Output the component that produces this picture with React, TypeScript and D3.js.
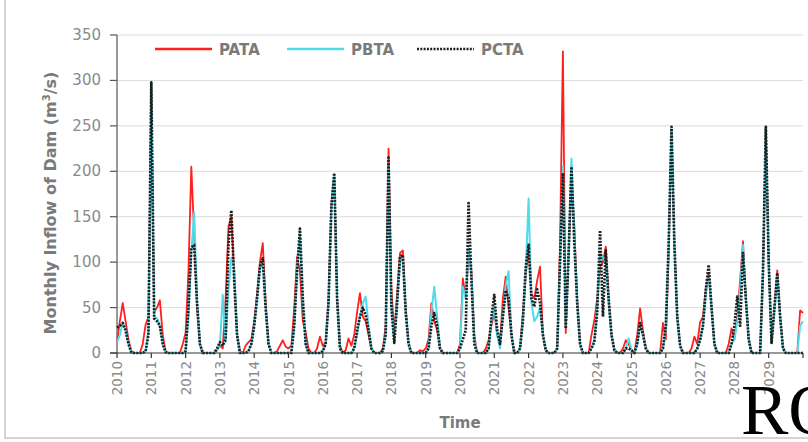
import * as d3 from "d3";

// monthly inflow, Jan 2010 .. Jan 2030 (one row per year)
const PATA = [
  12, 35, 55, 35, 15, 2, 0, 0, 0, 10, 31, 40,
  285, 45, 50, 58, 20, 2, 0, 0, 0, 0, 0, 10,
  22, 90, 205, 130, 50, 10, 0, 0, 0, 0, 0, 3,
  8, 5, 60, 139, 150, 85, 20, 2, 0, 8, 12, 15,
  35, 65, 100, 121, 55, 10, 0, 0, 2, 8, 14, 7,
  5, 8, 50, 106, 90, 35, 23, 5, 0, 0, 5, 18,
  8, 12, 60, 165, 195, 60, 8, 0, 3, 16, 8, 20,
  45, 66, 40, 35, 20, 5, 0, 0, 0, 5, 30, 225,
  70, 22, 65, 110, 113, 50, 10, 0, 0, 0, 3, 2,
  5, 15, 55, 35, 25, 5, 0, 0, 0, 0, 0, 0,
  10, 82, 60, 113, 90, 20, 0, 0, 0, 5, 14, 30,
  45, 20, 12, 60, 84, 50, 20, 0, 0, 5, 45, 85,
  115, 65, 60, 80, 95, 20, 3, 0, 0, 0, 5, 120,
  332, 22, 110, 190, 140, 60, 10, 0, 0, 0, 20, 36,
  60, 95, 100, 117, 60, 20, 3, 0, 0, 5, 14, 10,
  3, 0, 20, 49, 25, 5, 0, 0, 0, 0, 0, 33,
  15, 110, 245, 120, 40, 8, 0, 0, 0, 5, 18, 10,
  34, 40, 70, 88, 50, 10, 0, 0, 0, 0, 10, 27,
  15, 40, 80, 123, 60, 15, 0, 0, 0, 0, 90, 245,
  100, 11, 50, 91, 40, 5, 0, 0, 0, 0, 0, 47,
  44,
];

const PBTA = [
  12, 20, 33, 25, 10, 1, 0, 0, 0, 0, 2, 25,
  292, 40, 38, 30, 10, 1, 0, 0, 0, 0, 0, 0,
  2, 40, 110, 155, 60, 10, 0, 0, 0, 0, 0, 3,
  8, 64, 12, 70, 105, 95, 20, 0, 0, 0, 2, 10,
  30, 60, 92, 100, 50, 10, 0, 0, 0, 0, 0, 0,
  0, 2, 30, 95, 130, 55, 10, 0, 0, 0, 0, 0,
  2, 10, 55, 160, 197, 60, 5, 0, 0, 0, 0, 5,
  20, 40, 55, 62, 30, 5, 0, 0, 0, 2, 20, 205,
  50, 12, 55, 100, 105, 45, 10, 0, 0, 0, 0, 0,
  0, 5, 45, 73, 40, 5, 0, 0, 0, 0, 0, 0,
  5, 73, 60, 115, 85, 15, 0, 0, 0, 0, 5, 35,
  50, 20, 5, 40, 75, 90, 20, 0, 0, 5, 35, 90,
  170, 55, 35, 40, 50, 20, 3, 0, 0, 0, 5, 100,
  205, 30, 110, 214, 130, 55, 10, 0, 0, 0, 5, 15,
  50, 110, 105, 100, 55, 20, 3, 0, 0, 0, 5, 16,
  3, 0, 10, 31, 20, 5, 0, 0, 0, 0, 0, 5,
  25, 120, 247, 120, 40, 8, 0, 0, 0, 0, 0, 5,
  15, 30, 65, 85, 50, 10, 0, 0, 0, 0, 0, 10,
  15, 35, 70, 119, 60, 15, 0, 0, 0, 0, 90, 247,
  100, 11, 45, 85, 40, 5, 0, 0, 0, 0, 0, 30,
  35,
];

const PCTA = [
  28, 30, 33, 25, 10, 1, 0, 0, 0, 0, 2, 20,
  298, 38, 35, 30, 10, 1, 0, 0, 0, 0, 0, 0,
  2, 50, 116, 119, 55, 10, 0, 0, 0, 0, 0, 5,
  12, 8, 15, 120, 157, 80, 20, 0, 0, 0, 2, 10,
  30, 60, 95, 104, 50, 10, 0, 0, 0, 0, 0, 0,
  0, 0, 30, 90, 137, 60, 10, 0, 0, 0, 0, 0,
  2, 10, 55, 160, 198, 60, 5, 0, 0, 0, 0, 5,
  25, 40, 50, 42, 25, 5, 0, 0, 0, 2, 20, 215,
  50, 11, 55, 106, 108, 45, 10, 0, 0, 0, 0, 0,
  0, 5, 30, 44, 30, 5, 0, 0, 0, 0, 0, 0,
  5, 15, 25, 165, 80, 10, 0, 0, 0, 0, 5, 40,
  64, 25, 10, 40, 69, 60, 20, 0, 0, 5, 35, 95,
  119, 60, 51, 70, 55, 20, 3, 0, 0, 0, 5, 100,
  198, 27, 110, 205, 120, 55, 10, 0, 0, 0, 5, 12,
  45, 135, 40, 113, 60, 20, 3, 0, 0, 0, 5, 5,
  3, 0, 10, 33, 20, 5, 0, 0, 0, 0, 0, 5,
  30, 120, 249, 120, 40, 8, 0, 0, 0, 0, 0, 5,
  14, 30, 70, 97, 50, 10, 0, 0, 0, 0, 0, 10,
  30, 62, 30, 110, 60, 15, 0, 0, 0, 0, 90, 249,
  100, 11, 50, 88, 40, 5, 0, 0, 0, 0, 0, 0,
  0,
];

const years = d3.range(2010, 2030);
const yTicks = [0, 50, 100, 150, 200, 250, 300, 350];

const W = 808;
const H = 442;
const font = "DejaVu Sans, Verdana, sans-serif";

export default function App() {
  const x = d3.scaleLinear().domain([0, 240]).range([117, 803]);
  const y = d3.scaleLinear().domain([0, 350]).range([353, 35]);

  const line = d3
    .line<number>()
    .x((_, i) => x(i))
    .y((d) => y(d));

  const series = [
    { name: "PATA", data: PATA, color: "#ff1f1f", width: 1.8, dash: undefined },
    { name: "PBTA", data: PBTA, color: "#4fdbea", width: 2, dash: undefined },
    { name: "PCTA", data: PCTA, color: "#1a2020", width: 2.7, dash: "2 1.3" },
  ];
  const legendX = [155, 287, 417];

  return (
    <svg
      width={W}
      height={H}
      style={{ position: "fixed", left: 0, top: 0, background: "#fff" }}
    >
      {/* frame */}
      <rect x={5} y={-2} width={815} height={440} fill="none" stroke="#d4d4d4" strokeWidth={2} />

      {/* gridlines */}
      {yTicks.slice(1).map((t) => (
        <line key={t} x1={117} x2={803} y1={y(t)} y2={y(t)} stroke="#dcdcdc" strokeWidth={1} />
      ))}

      {/* y axis */}
      <line x1={117} x2={117} y1={y(350)} y2={y(0)} stroke="#555" strokeWidth={1.2} />
      {yTicks.map((t) => (
        <g key={t}>
          <line x1={110} x2={117} y1={y(t)} y2={y(t)} stroke="#555" strokeWidth={1.2} />
          <text x={101} y={y(t) + 5} textAnchor="end" fontFamily={font} fontSize={15} fill="#8a8a8a">
            {t}
          </text>
        </g>
      ))}

      {/* series */}
      {series.map((s) => (
        <path
          key={s.name}
          d={line(s.data) || ""}
          fill="none"
          stroke={s.color}
          strokeWidth={s.width}
          strokeDasharray={s.dash}
          strokeLinejoin="round"
        />
      ))}

      {/* x axis */}
      <line x1={110} x2={803} y1={y(0)} y2={y(0)} stroke="#333" strokeWidth={1.2} />
      {d3.range(0, 241, 12).map((i) => (
        <line key={i} x1={x(i)} x2={x(i)} y1={y(0)} y2={y(0) + 5} stroke="#333" strokeWidth={1.2} />
      ))}
      {years.map((yr, k) => (
        <text
          key={yr}
          transform={`translate(${x(k * 12) + 5},361) rotate(-90)`}
          textAnchor="end"
          fontFamily={font}
          fontSize={13.5}
          fill="#8a8a8a"
        >
          {yr}
        </text>
      ))}

      {/* axis titles */}
      <text x={460} y={428} textAnchor="middle" fontFamily={font} fontSize={15} fontWeight="bold" fill="#7a7a7a">
        Time
      </text>
      <text
        transform="translate(56,203) rotate(-90)"
        textAnchor="middle"
        fontFamily={font}
        fontSize={16}
        fontWeight="bold"
        fill="#7a7a7a"
      >
        Monthly Inflow of Dam (m<tspan fontSize={10} dy={-6}>3</tspan>
        <tspan dy={6}>/s)</tspan>
      </text>

      {/* legend */}
      {series.map((s, k) => (
        <g key={s.name}>
          <line
            x1={legendX[k]}
            x2={legendX[k] + 57}
            y1={49}
            y2={49}
            stroke={s.color}
            strokeWidth={s.dash ? 2.5 : 2.5}
            strokeDasharray={s.dash}
          />
          <text x={legendX[k] + 64} y={54.5} fontFamily={font} fontSize={15} fontWeight="bold" fill="#7a7a7a">
            {s.name}
          </text>
        </g>
      ))}

      {/* stray page text at the bottom right of the source (cut off there too) */}
      <text x={741} y={434} fontFamily="Liberation Serif, Times New Roman, serif" fontSize={71} fill="#000">
        RO
      </text>
    </svg>
  );
}
